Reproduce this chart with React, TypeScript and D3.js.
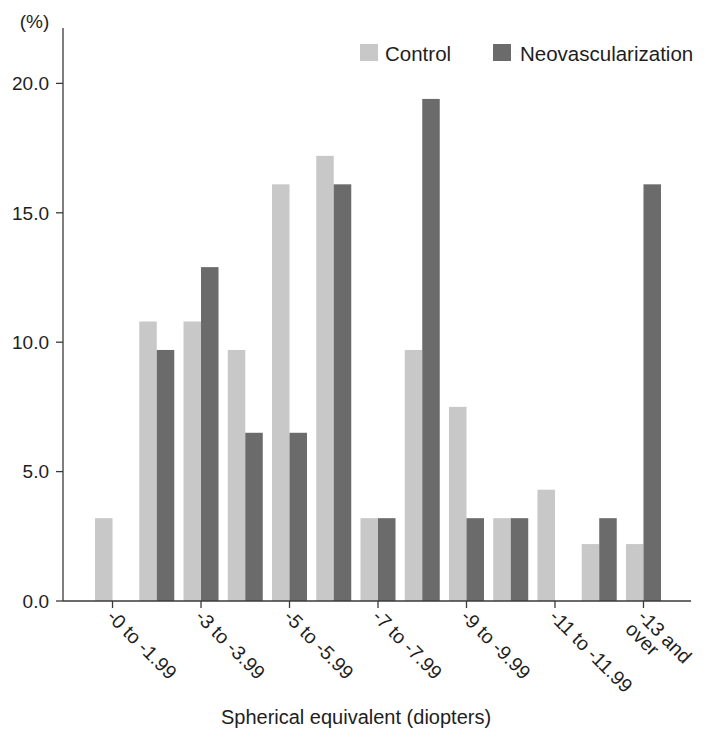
import React from "react";
import * as d3 from "d3";

// 13 one-diopter bins, only every other one carries a tick label
const categories = [
  "-0 to -0.99", "-1 to -1.99", "-2 to -2.99", "-3 to -3.99", "-4 to -4.99",
  "-5 to -5.99", "-6 to -6.99", "-7 to -7.99", "-8 to -8.99", "-9 to -9.99",
  "-10 to -10.99", "-11 to -11.99", "-12 to -12.99",
];
const controlValues = [3.2, 10.8, 10.8, 9.7, 16.1, 17.2, 3.2, 9.7, 7.5, 3.2, 4.3, 2.2, 2.2];
const neoValues = [0, 9.7, 12.9, 6.5, 6.5, 16.1, 3.2, 19.4, 3.2, 3.2, 0, 3.2, 16.1];
const tickLabels = [
  ["-0 to -1.99"],
  ["-3 to -3.99"],
  ["-5 to -5.99"],
  ["-7 to -7.99"],
  ["-9 to -9.99"],
  ["-11 to -11.99"],
  ["-13 and", "over"],
];
const yTicks = [0, 5, 10, 15, 20];
const seriesNames = ["Control", "Neovascularization"];
const colors = ["#c8c8c8", "#6b6b6b"];

const W = 706, H = 739;
const font = "'Liberation Sans', Arial, Helvetica, sans-serif";
const axisColor = "#3a3a3a";
const textColor = "#1e1e1e";

export default function App() {
  const x0 = 63, x1 = 691, yBase = 601, yTop = 28;

  const y = d3.scaleLinear().domain([0, 22.14]).range([yBase, yTop]);
  const x = d3.scaleBand<string>()
    .domain(categories)
    .range([90.4, 665.6])
    .paddingInner(0.209)
    .paddingOuter(0.1045);
  const inner = d3.scaleBand<string>()
    .domain(seriesNames)
    .range([0, x.bandwidth()]);

  const series = [controlValues, neoValues];
  const tickCats = categories.filter((_, i) => i % 2 === 0);

  return (
    <svg width={W} height={H} style={{ position: "absolute", left: 0, top: 0, background: "#fff" }}
      fontFamily={font}>
      {/* bars */}
      {categories.map((c, i) => (
        <g key={c} transform={`translate(${x(c)},0)`}>
          {series.map((vals, s) =>
            vals[i] > 0 ? (
              <rect key={s} x={inner(seriesNames[s])} y={y(vals[i])}
                width={inner.bandwidth()} height={yBase - y(vals[i])} fill={colors[s]} />
            ) : null
          )}
        </g>
      ))}

      {/* y axis */}
      <line x1={x0} x2={x0} y1={yTop} y2={yBase} stroke={axisColor} strokeWidth={1.3} />
      {yTicks.map(t => (
        <g key={t} transform={`translate(0,${y(t)})`}>
          <line x1={x0 - 7} x2={x0} stroke={axisColor} strokeWidth={1.3} />
          <text x={x0 - 14} dy="0.36em" textAnchor="end" fontSize={19} fill={textColor}>
            {t.toFixed(1)}
          </text>
        </g>
      ))}
      <text x={34.5} y={28} textAnchor="middle" fontSize={19} fill={textColor}>(%)</text>

      {/* x axis */}
      <line x1={x0} x2={x1} y1={yBase} y2={yBase} stroke={axisColor} strokeWidth={1.3} />
      {tickCats.map((c, k) => {
        const cx = (x(c) as number) + x.bandwidth() / 2;
        return (
          <g key={c}>
            <line x1={cx} x2={cx} y1={yBase} y2={yBase + 7} stroke={axisColor} strokeWidth={1.3} />
            <text transform={`translate(${cx - 2},${yBase + 12}) rotate(45)`}
              fontSize={19.5} fill={textColor} textAnchor="start">
              {tickLabels[k].map((line, j) => (
                <tspan key={j} x={0} dy={j === 0 ? "0.35em" : "0.9em"}>{line}</tspan>
              ))}
            </text>
          </g>
        );
      })}
      <text x={356} y={724} textAnchor="middle" fontSize={20} fill={textColor}>
        Spherical equivalent (diopters)
      </text>

      {/* legend */}
      {[{ sx: 360, tx: 385 }, { sx: 493, tx: 520 }].map((p, s) => (
        <g key={s}>
          <rect x={p.sx} y={44} width={18} height={17} fill={colors[s]} />
          <text x={p.tx} y={60.5} fontSize={20.5} fill={textColor}>{seriesNames[s]}</text>
        </g>
      ))}
    </svg>
  );
}
